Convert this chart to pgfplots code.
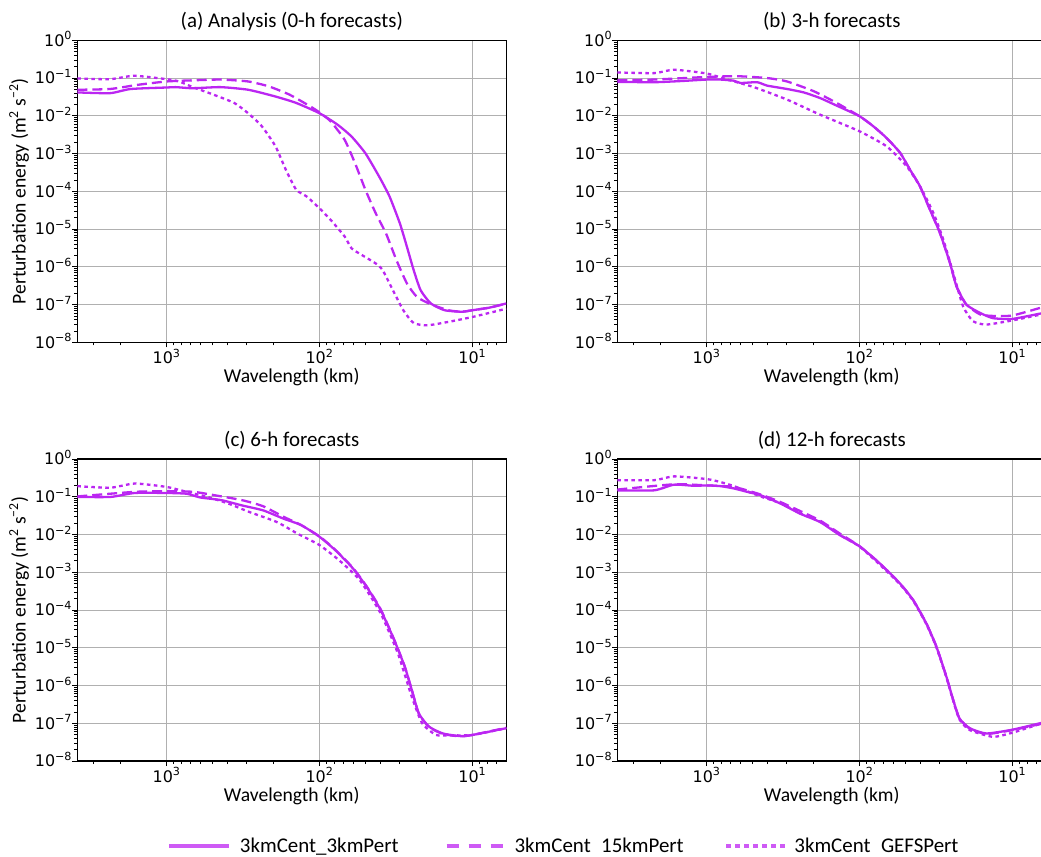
\documentclass[border=0pt]{standalone}
\usepackage{fontspec}
\setmainfont{Carlito}
\newfontfamily\dejavu{DejaVu Sans}
\usepackage{pgfplots}
\pgfplotsset{compat=1.18}

\definecolor{pc}{RGB}{187,38,242}
\definecolor{lc}{RGB}{206,90,245}
\definecolor{gridgray}{RGB}{176,176,176}

\begin{document}
\begin{tikzpicture}
\useasboundingbox (0bp,0bp) rectangle (1041bp,-857bp);

% ---------------- (a) ----------------
\begin{axis}[at={(77.3bp,-342.3bp)}, anchor=south west,
    scale only axis, width=429bp, height=302bp,
    xmode=log, ymode=log, x dir=reverse,
    xmin=6, xmax=3840, ymin=1e-8, ymax=1,
    xtick={10,100,1000},
    xticklabels={10\textsuperscript{1},10\textsuperscript{2},10\textsuperscript{3}},
    ytick={1e-8,1e-7,1e-6,1e-5,1e-4,1e-3,1e-2,1e-1,1},
    yticklabels={10\textsuperscript{−8},10\textsuperscript{−7},10\textsuperscript{−6},10\textsuperscript{−5},10\textsuperscript{−4},10\textsuperscript{−3},10\textsuperscript{−2},10\textsuperscript{−1},10\textsuperscript{0}},
    minor xtick={7,8,9,20,30,40,50,60,70,80,90,200,300,400,500,600,700,800,900,2000,3000},
    minor ytick={2e-8,3e-8,4e-8,5e-8,6e-8,7e-8,8e-8,9e-8,2e-7,3e-7,4e-7,5e-7,6e-7,7e-7,8e-7,9e-7,2e-6,3e-6,4e-6,5e-6,6e-6,7e-6,8e-6,9e-6,2e-5,3e-5,4e-5,5e-5,6e-5,7e-5,8e-5,9e-5,2e-4,3e-4,4e-4,5e-4,6e-4,7e-4,8e-4,9e-4,2e-3,3e-3,4e-3,5e-3,6e-3,7e-3,8e-3,9e-3,0.02,0.03,0.04,0.05,0.06,0.07,0.08,0.09,0.2,0.3,0.4,0.5,0.6,0.7,0.8,0.9},
    xmajorgrids=true, ymajorgrids=true,
    major grid style={draw=gridgray, line width=0.9bp},
    tick pos=left, tick align=outside,
    major tick length=5bp, minor tick length=3bp,
    major tick style={black, line width=1bp},
    minor tick style={black, line width=0.8bp},
    axis line style={black, line width=1.1bp},
    tick label style={font=\dejavu\fontsize{16}{16}\selectfont, inner sep=0pt},
    xticklabel style={anchor=base, yshift=-16bp},
    yticklabel style={anchor=base east, yshift=-5.8bp},
    title style={font=\fontsize{21}{21}\selectfont, at={(axis description cs:0.5,1.041)}, anchor=base, inner sep=0pt, yshift=-6pt},
    xlabel style={font=\fontsize{19.7}{19.7}\selectfont, at={(axis description cs:0.5,-0.1331)}, anchor=base, inner sep=0pt},
    ylabel style={font=\fontsize{19.7}{19.7}\selectfont, at={(axis description cs:-0.1359,0.5)}, anchor=center, inner sep=0pt},
    xlabel={Wavelength (km)},
  title={(a) Analysis (0-h forecasts)},
  ylabel={Perturbation energy (m\textsuperscript{2} s\textsuperscript{−2})}]
\addplot[draw=pc, line width=2.3bp, solid, line join=round, smooth, tension=0.35] table {
3840 0.0417
2344 0.0398
1718 0.0513
1000 0.0562
874 0.0575
673 0.0537
445 0.0575
293 0.0490
194 0.0324
142 0.0219
100 0.0117
75.9 0.00575
61.7 0.00282
50.1 0.00102
40.7 2.45e-4
34.8 7.24e-5
29.8 1.41e-5
26.8 3.39e-6
24.2 8.13e-7
21.8 2.40e-7
18.7 1.07e-7
15.2 7.08e-8
11.7 6.46e-8
10 7.08e-8
7.7 8.32e-8
6.0 1.07e-7
};
\addplot[draw=pc, line width=2.3bp, dash pattern=on 10bp off 5bp, line join=round, smooth, tension=0.35] table {
3840 0.0490
2344 0.0513
1548 0.0661
1000 0.0813
673 0.0871
445 0.0912
293 0.0813
215 0.0603
157 0.0363
115 0.0178
100 0.0123
84.4 0.00708
68.4 0.00229
58.5 5.50e-4
50.1 1.10e-4
42.9 2.63e-5
36.7 7.59e-6
31.4 1.51e-6
26.8 3.63e-7
23.0 1.58e-7
18.7 1.02e-7
14.4 7.08e-8
11.7 6.46e-8
10 7.08e-8
7.7 8.32e-8
6.0 1.07e-7
};
\addplot[draw=pc, line width=2.3bp, dash pattern=on 3.6bp off 3.4bp, line join=round, smooth, tension=0.35] table {
3840 0.0977
2344 0.0933
1630 0.115
1000 0.0933
830 0.0813
673 0.0575
493 0.0363
361 0.0219
293 0.0117
238 0.00525
194 0.00155
166 3.72e-4
142 1.10e-4
121 7.24e-5
100 3.55e-5
84.4 1.74e-5
68.4 6.31e-6
61.7 3.09e-6
52.7 2.04e-6
42.9 1.23e-6
38.6 8.13e-7
33.1 2.40e-7
28.3 7.08e-8
24.2 3.24e-8
19.7 2.82e-8
14.4 3.47e-8
10 4.68e-8
6.0 7.76e-8
};
\end{axis}

% ---------------- (b) ----------------
\begin{axis}[at={(617.3bp,-342.3bp)}, anchor=south west,
    scale only axis, width=429bp, height=302bp,
    xmode=log, ymode=log, x dir=reverse,
    xmin=6, xmax=3840, ymin=1e-8, ymax=1,
    xtick={10,100,1000},
    xticklabels={10\textsuperscript{1},10\textsuperscript{2},10\textsuperscript{3}},
    ytick={1e-8,1e-7,1e-6,1e-5,1e-4,1e-3,1e-2,1e-1,1},
    yticklabels={10\textsuperscript{−8},10\textsuperscript{−7},10\textsuperscript{−6},10\textsuperscript{−5},10\textsuperscript{−4},10\textsuperscript{−3},10\textsuperscript{−2},10\textsuperscript{−1},10\textsuperscript{0}},
    minor xtick={7,8,9,20,30,40,50,60,70,80,90,200,300,400,500,600,700,800,900,2000,3000},
    minor ytick={2e-8,3e-8,4e-8,5e-8,6e-8,7e-8,8e-8,9e-8,2e-7,3e-7,4e-7,5e-7,6e-7,7e-7,8e-7,9e-7,2e-6,3e-6,4e-6,5e-6,6e-6,7e-6,8e-6,9e-6,2e-5,3e-5,4e-5,5e-5,6e-5,7e-5,8e-5,9e-5,2e-4,3e-4,4e-4,5e-4,6e-4,7e-4,8e-4,9e-4,2e-3,3e-3,4e-3,5e-3,6e-3,7e-3,8e-3,9e-3,0.02,0.03,0.04,0.05,0.06,0.07,0.08,0.09,0.2,0.3,0.4,0.5,0.6,0.7,0.8,0.9},
    xmajorgrids=true, ymajorgrids=true,
    major grid style={draw=gridgray, line width=0.9bp},
    tick pos=left, tick align=outside,
    major tick length=5bp, minor tick length=3bp,
    major tick style={black, line width=1bp},
    minor tick style={black, line width=0.8bp},
    axis line style={black, line width=1.1bp},
    tick label style={font=\dejavu\fontsize{16}{16}\selectfont, inner sep=0pt},
    xticklabel style={anchor=base, yshift=-16bp},
    yticklabel style={anchor=base east, yshift=-5.8bp},
    title style={font=\fontsize{21}{21}\selectfont, at={(axis description cs:0.5,1.041)}, anchor=base, inner sep=0pt, yshift=-6pt},
    xlabel style={font=\fontsize{19.7}{19.7}\selectfont, at={(axis description cs:0.5,-0.1331)}, anchor=base, inner sep=0pt},
    xlabel={Wavelength (km)},
  title={(b) 3-h forecasts}]
\addplot[draw=pc, line width=2.3bp, solid, line join=round, smooth, tension=0.35] table {
3840 0.0794
2203 0.0776
1478 0.0832
1000 0.0912
811 0.0912
663 0.0851
600 0.0741
467 0.0776
402 0.0631
298 0.0513
232 0.0417
181 0.0295
141 0.0186
100 0.00977
81.1 0.00525
66.4 0.00257
54.3 0.00105
46.7 3.72e-4
40.2 1.35e-4
34.6 3.24e-5
29.8 7.94e-6
25.6 1.26e-6
23.2 3.02e-7
20.0 1.0e-7
16.3 6.03e-8
13.4 4.37e-8
10 4.17e-8
6.6 5.75e-8
6.0 6.03e-8
};
\addplot[draw=pc, line width=2.3bp, dash pattern=on 10bp off 5bp, line join=round, smooth, tension=0.35] table {
3840 0.0871
2203 0.0912
1000 0.107
631 0.112
402 0.100
298 0.0813
199 0.0447
141 0.0219
100 0.00977
81.1 0.00525
66.4 0.00257
54.3 0.00105
46.7 3.72e-4
40.2 1.35e-4
34.6 3.24e-5
29.8 7.94e-6
25.6 1.26e-6
23.2 3.02e-7
20.0 1.0e-7
16.3 5.5e-8
13.4 5.0e-8
10 5.13e-8
6.6 8.13e-8
6.0 8.9e-8
};
\addplot[draw=pc, line width=2.3bp, dash pattern=on 3.6bp off 3.4bp, line join=round, smooth, tension=0.35] table {
3840 0.141
2203 0.135
1634 0.166
1000 0.132
733 0.0912
491 0.0575
298 0.0269
181 0.0107
100 0.00389
66.4 0.00155
49.1 4.57e-4
40.2 1.35e-4
32.9 2.69e-5
28.3 5.25e-6
24.4 6.92e-7
21.0 8.91e-8
18.1 3.63e-8
14.8 2.95e-8
10 3.80e-8
6.6 5.37e-8
6.0 5.6e-8
};
\end{axis}

% ---------------- (c) ----------------
\begin{axis}[at={(77.3bp,-761bp)}, anchor=south west,
    scale only axis, width=429bp, height=302bp,
    xmode=log, ymode=log, x dir=reverse,
    xmin=6, xmax=3840, ymin=1e-8, ymax=1,
    xtick={10,100,1000},
    xticklabels={10\textsuperscript{1},10\textsuperscript{2},10\textsuperscript{3}},
    ytick={1e-8,1e-7,1e-6,1e-5,1e-4,1e-3,1e-2,1e-1,1},
    yticklabels={10\textsuperscript{−8},10\textsuperscript{−7},10\textsuperscript{−6},10\textsuperscript{−5},10\textsuperscript{−4},10\textsuperscript{−3},10\textsuperscript{−2},10\textsuperscript{−1},10\textsuperscript{0}},
    minor xtick={7,8,9,20,30,40,50,60,70,80,90,200,300,400,500,600,700,800,900,2000,3000},
    minor ytick={2e-8,3e-8,4e-8,5e-8,6e-8,7e-8,8e-8,9e-8,2e-7,3e-7,4e-7,5e-7,6e-7,7e-7,8e-7,9e-7,2e-6,3e-6,4e-6,5e-6,6e-6,7e-6,8e-6,9e-6,2e-5,3e-5,4e-5,5e-5,6e-5,7e-5,8e-5,9e-5,2e-4,3e-4,4e-4,5e-4,6e-4,7e-4,8e-4,9e-4,2e-3,3e-3,4e-3,5e-3,6e-3,7e-3,8e-3,9e-3,0.02,0.03,0.04,0.05,0.06,0.07,0.08,0.09,0.2,0.3,0.4,0.5,0.6,0.7,0.8,0.9},
    xmajorgrids=true, ymajorgrids=true,
    major grid style={draw=gridgray, line width=0.9bp},
    tick pos=left, tick align=outside,
    major tick length=5bp, minor tick length=3bp,
    major tick style={black, line width=1bp},
    minor tick style={black, line width=0.8bp},
    axis line style={black, line width=1.1bp},
    tick label style={font=\dejavu\fontsize{16}{16}\selectfont, inner sep=0pt},
    xticklabel style={anchor=base, yshift=-16bp},
    yticklabel style={anchor=base east, yshift=-5.8bp},
    title style={font=\fontsize{21}{21}\selectfont, at={(axis description cs:0.5,1.041)}, anchor=base, inner sep=0pt, yshift=-6pt},
    xlabel style={font=\fontsize{19.7}{19.7}\selectfont, at={(axis description cs:0.5,-0.1331)}, anchor=base, inner sep=0pt},
    ylabel style={font=\fontsize{19.7}{19.7}\selectfont, at={(axis description cs:-0.1359,0.5)}, anchor=center, inner sep=0pt},
    xlabel={Wavelength (km)},
  title={(c) 6-h forecasts},
  ylabel={Perturbation energy (m\textsuperscript{2} s\textsuperscript{−2})}]
\addplot[draw=pc, line width=2.3bp, solid, line join=round, smooth, tension=0.35] table {
3840 0.0989
2328 0.0989
1615 0.126
1000 0.126
739 0.120
600 0.0955
438 0.0813
321 0.0589
234 0.0437
172 0.0263
132 0.0178
100 0.00871
78.6 0.00380
60.4 0.00126
49.1 4.07e-4
39.8 1.0e-4
32.4 1.58e-5
27.7 3.16e-6
24.9 7.59e-7
22.4 1.82e-7
19.2 8.13e-8
15.6 5.37e-8
12.0 4.57e-8
10 4.90e-8
6.0 7.41e-8
};
\addplot[draw=pc, line width=2.3bp, dash pattern=on 10bp off 5bp, line join=round, smooth, tension=0.35] table {
3840 0.102
1615 0.135
1000 0.141
666 0.135
487 0.110
321 0.0813
234 0.0562
172 0.0295
132 0.0178
100 0.00891
78.6 0.0039
60.4 0.0013
49.1 4.2e-4
39.8 1.05e-4
32.4 1.6e-5
27.7 3.2e-6
24.9 7.6e-7
22.4 1.8e-7
19.2 7.9e-8
15.6 5.2e-8
12.0 4.5e-8
10 4.9e-8
6.0 7.6e-8
};
\addplot[draw=pc, line width=2.3bp, dash pattern=on 3.6bp off 3.4bp, line join=round, smooth, tension=0.35] table {
3840 0.191
2328 0.174
1615 0.224
1000 0.182
739 0.135
541 0.0989
395 0.0661
289 0.0398
190 0.0214
139 0.0105
100 0.00525
74.5 0.00209
54.5 6.17e-4
39.8 8.13e-5
30.7 7.08e-6
24.9 5.01e-7
21.3 1.0e-7
17.3 4.9e-8
14.0 4.79e-8
10 4.9e-8
6.0 7.41e-8
};
\end{axis}

% ---------------- (d) ----------------
\begin{axis}[at={(617.3bp,-761bp)}, anchor=south west,
    scale only axis, width=429bp, height=302bp,
    xmode=log, ymode=log, x dir=reverse,
    xmin=6, xmax=3840, ymin=1e-8, ymax=1,
    xtick={10,100,1000},
    xticklabels={10\textsuperscript{1},10\textsuperscript{2},10\textsuperscript{3}},
    ytick={1e-8,1e-7,1e-6,1e-5,1e-4,1e-3,1e-2,1e-1,1},
    yticklabels={10\textsuperscript{−8},10\textsuperscript{−7},10\textsuperscript{−6},10\textsuperscript{−5},10\textsuperscript{−4},10\textsuperscript{−3},10\textsuperscript{−2},10\textsuperscript{−1},10\textsuperscript{0}},
    minor xtick={7,8,9,20,30,40,50,60,70,80,90,200,300,400,500,600,700,800,900,2000,3000},
    minor ytick={2e-8,3e-8,4e-8,5e-8,6e-8,7e-8,8e-8,9e-8,2e-7,3e-7,4e-7,5e-7,6e-7,7e-7,8e-7,9e-7,2e-6,3e-6,4e-6,5e-6,6e-6,7e-6,8e-6,9e-6,2e-5,3e-5,4e-5,5e-5,6e-5,7e-5,8e-5,9e-5,2e-4,3e-4,4e-4,5e-4,6e-4,7e-4,8e-4,9e-4,2e-3,3e-3,4e-3,5e-3,6e-3,7e-3,8e-3,9e-3,0.02,0.03,0.04,0.05,0.06,0.07,0.08,0.09,0.2,0.3,0.4,0.5,0.6,0.7,0.8,0.9},
    xmajorgrids=true, ymajorgrids=true,
    major grid style={draw=gridgray, line width=0.9bp},
    tick pos=left, tick align=outside,
    major tick length=5bp, minor tick length=3bp,
    major tick style={black, line width=1bp},
    minor tick style={black, line width=0.8bp},
    axis line style={black, line width=1.1bp},
    tick label style={font=\dejavu\fontsize{16}{16}\selectfont, inner sep=0pt},
    xticklabel style={anchor=base, yshift=-16bp},
    yticklabel style={anchor=base east, yshift=-5.8bp},
    title style={font=\fontsize{21}{21}\selectfont, at={(axis description cs:0.5,1.041)}, anchor=base, inner sep=0pt, yshift=-6pt},
    xlabel style={font=\fontsize{19.7}{19.7}\selectfont, at={(axis description cs:0.5,-0.1331)}, anchor=base, inner sep=0pt},
    xlabel={Wavelength (km)},
  title={(d) 12-h forecasts}]
\addplot[draw=pc, line width=2.3bp, solid, line join=round, smooth, tension=0.35] table {
3840 0.148
2203 0.148
1634 0.209
1209 0.195
1000 0.200
811 0.191
663 0.166
543 0.135
444 0.110
329 0.0661
244 0.0355
181 0.0214
134 0.00955
100 0.00490
73.5 0.00170
54.3 5.01e-4
44.5 1.82e-4
36.5 4.37e-5
31.4 1.07e-5
27.0 1.70e-6
24.4 4.17e-7
22.2 1.35e-7
19.0 7.41e-8
14.8 5.37e-8
10 6.76e-8
6.6 1.0e-7
6.0 1.07e-7
};
\addplot[draw=pc, line width=2.3bp, dash pattern=on 10bp off 5bp, line join=round, smooth, tension=0.35] table {
3840 0.155
1634 0.214
1000 0.200
663 0.182
444 0.115
329 0.0724
244 0.0417
181 0.0234
134 0.0105
100 0.0049
73.5 0.00170
54.3 5.01e-4
44.5 1.82e-4
36.5 4.37e-5
31.4 1.07e-5
27.0 1.70e-6
24.4 4.17e-7
22.2 1.35e-7
19.0 7.2e-8
14.8 5.2e-8
10 6.6e-8
6.6 9.5e-8
6.0 1.0e-7
};
\addplot[draw=pc, line width=2.3bp, dash pattern=on 3.6bp off 3.4bp, line join=round, smooth, tension=0.35] table {
3840 0.275
2203 0.275
1634 0.347
1000 0.295
811 0.245
663 0.191
444 0.102
329 0.0676
244 0.0363
181 0.0219
134 0.00977
100 0.00479
73.5 0.00158
54.3 4.79e-4
44.5 1.74e-4
36.5 4.17e-5
31.4 1.02e-5
27.0 1.62e-6
24.4 3.98e-7
22.2 1.26e-7
19.0 6.61e-8
13.4 4.37e-8
10 5.62e-8
6.6 9.55e-8
6.0 1.0e-7
};
\end{axis}

% ---------------- legend ----------------
\begin{axis}[at={(0bp,-857bp)}, anchor=south west, scale only axis,
  width=1041bp, height=857bp, hide axis,
  xmin=0, xmax=1, ymin=0, ymax=1,
  legend columns=3,
  legend image code/.code={\draw[#1] (0bp,0bp) -- (60bp,0bp);},
  legend style={draw=none, fill=none, at={(axis description cs:0.1607,0.0128)},
    anchor=west, inner sep=0pt, outer sep=0pt,
    font=\fontsize{21}{21}\selectfont,
    nodes={inner sep=0pt},
    /tikz/column 1/.style={column sep=8.7bp},
    /tikz/column 2/.style={column sep=46bp},
    /tikz/column 3/.style={column sep=6bp},
    /tikz/column 4/.style={column sep=40.7bp},
    /tikz/column 5/.style={column sep=6bp}},
  legend cell align=left]
\addlegendimage{draw=lc, line width=4bp, solid}
\addlegendentry{3kmCent\_3kmPert}
\addlegendimage{draw=lc, line width=4bp, dash pattern=on 12bp off 10bp}
\addlegendentry{3kmCent\hphantom{\_}15kmPert}
\addlegendimage{draw=lc, line width=4bp, dash pattern=on 5bp off 4bp}
\addlegendentry{3kmCent\hphantom{\_}GEFSPert}
\end{axis}
\end{tikzpicture}
\end{document}
